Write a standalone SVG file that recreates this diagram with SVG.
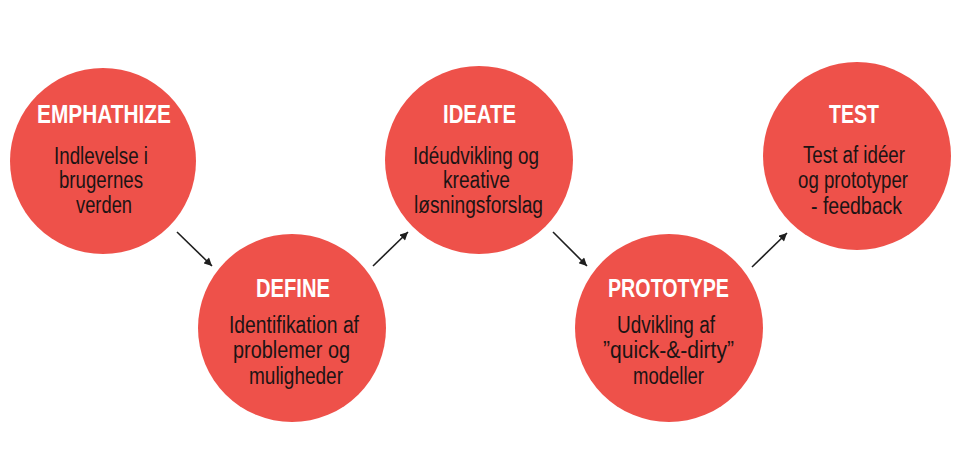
<svg xmlns="http://www.w3.org/2000/svg" width="964" height="454" viewBox="0 0 964 454">
<style>
  .bg { fill: #ffffff; }
  .circle { fill: #EE514A; }
  .title { font-family: "Liberation Sans", Arial, sans-serif; font-weight: bold; font-size: 25px; fill: #ffffff; text-anchor: middle; }
  .body { font-family: "Liberation Sans", Arial, sans-serif; font-size: 23px; fill: #1c1414; text-anchor: middle; }
  .conn { stroke: #1e1e1e; stroke-width: 1.6; fill: none; }
</style>
<defs>
  <marker id="arrow" viewBox="0 0 10 10" refX="10" refY="5" markerWidth="9" markerHeight="8" markerUnits="userSpaceOnUse" orient="auto">
    <path d="M0,0 L10,5 L0,10 z" fill="#1e1e1e"/>
  </marker>
</defs>
<rect class="bg" x="0" y="0" width="964" height="454"/>

<g id="connectors">
  <line class="conn" x1="177" y1="232" x2="212" y2="266" marker-end="url(#arrow)"/>
  <line class="conn" x1="373" y1="266" x2="408" y2="232" marker-end="url(#arrow)"/>
  <line class="conn" x1="553" y1="232" x2="587" y2="266" marker-end="url(#arrow)"/>
  <line class="conn" x1="752" y1="267" x2="787" y2="233" marker-end="url(#arrow)"/>
</g>

<g id="empathize">
  <circle class="circle" cx="103" cy="161" r="93"/>
  <text class="title" x="104" y="123" textLength="134" lengthAdjust="spacingAndGlyphs">EMPHATHIZE</text>
  <text class="body" x="101" y="164" textLength="94" lengthAdjust="spacingAndGlyphs">Indlevelse i</text>
  <text class="body" x="101" y="188" textLength="84" lengthAdjust="spacingAndGlyphs">brugernes</text>
  <text class="body" x="104" y="213" textLength="56" lengthAdjust="spacingAndGlyphs">verden</text>
</g>

<g id="define">
  <circle class="circle" cx="292" cy="328" r="94"/>
  <text class="title" x="293" y="297" textLength="74" lengthAdjust="spacingAndGlyphs">DEFINE</text>
  <text class="body" x="294" y="333" textLength="130" lengthAdjust="spacingAndGlyphs">Identifikation af</text>
  <text class="body" x="291.5" y="358" textLength="117" lengthAdjust="spacingAndGlyphs">problemer og</text>
  <text class="body" x="296" y="384" textLength="94" lengthAdjust="spacingAndGlyphs">muligheder</text>
</g>

<g id="ideate">
  <circle class="circle" cx="479" cy="160" r="94"/>
  <text class="title" x="479.5" y="123" textLength="73" lengthAdjust="spacingAndGlyphs">IDEATE</text>
  <text class="body" x="476" y="164" textLength="126" lengthAdjust="spacingAndGlyphs">Idéudvikling og</text>
  <text class="body" x="476.5" y="188" textLength="67" lengthAdjust="spacingAndGlyphs">kreative</text>
  <text class="body" x="478.5" y="213" textLength="129" lengthAdjust="spacingAndGlyphs">løsningsforslag</text>
</g>

<g id="prototype">
  <circle class="circle" cx="669" cy="328" r="94"/>
  <text class="title" x="668.5" y="297" textLength="121" lengthAdjust="spacingAndGlyphs">PROTOTYPE</text>
  <text class="body" x="666" y="333" textLength="98" lengthAdjust="spacingAndGlyphs">Udvikling af</text>
  <text class="body" x="668.5" y="358" textLength="131" lengthAdjust="spacingAndGlyphs">”quick-&amp;-dirty”</text>
  <text class="body" x="668.5" y="384" textLength="71" lengthAdjust="spacingAndGlyphs">modeller</text>
</g>

<g id="test">
  <circle class="circle" cx="857" cy="156" r="94"/>
  <text class="title" x="854" y="123" textLength="50" lengthAdjust="spacingAndGlyphs">TEST</text>
  <text class="body" x="854" y="163" textLength="102" lengthAdjust="spacingAndGlyphs">Test af idéer</text>
  <text class="body" x="853" y="188" textLength="110" lengthAdjust="spacingAndGlyphs">og prototyper</text>
  <text class="body" x="856.5" y="214" textLength="91" lengthAdjust="spacingAndGlyphs">- feedback</text>
</g>
</svg>
